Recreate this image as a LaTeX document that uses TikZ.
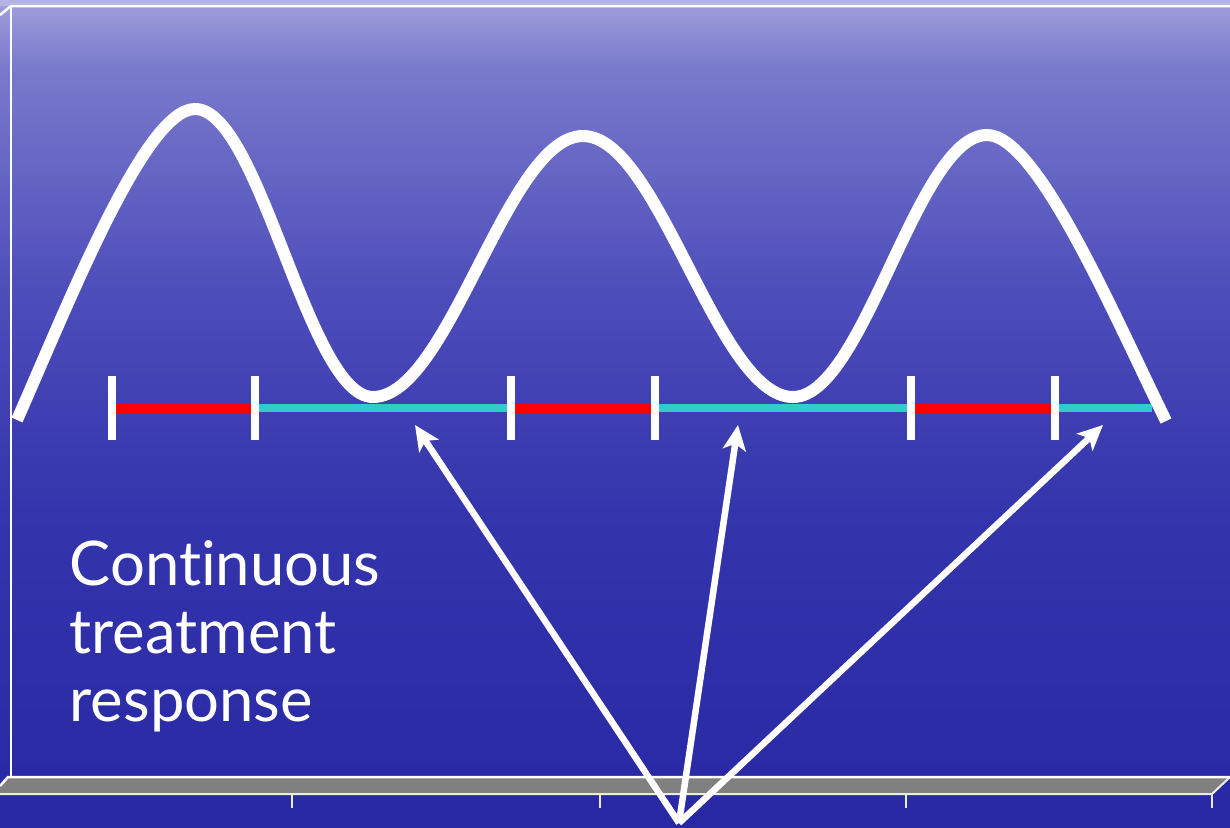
\documentclass[tikz,border=0pt]{standalone}
\usepackage{fontspec}
\setmainfont{Lato}[Ligatures=NoCommon]
\usetikzlibrary{arrows.meta}

\definecolor{seatop}{RGB}{160,160,222}
\definecolor{seaupper}{RGB}{122,122,204}
\definecolor{seamid}{RGB}{76,76,186}
\definecolor{sealow}{RGB}{52,52,172}
\definecolor{seabot}{RGB}{40,40,165}
\definecolor{onred}{RGB}{255,0,0}
\definecolor{offcyan}{RGB}{51,204,204}
\definecolor{floorgray}{RGB}{128,128,128}

\pgfdeclareverticalshading{seashade}{100bp}{color(0bp)=(seabot); color(25bp)=(seabot);
  color(44bp)=(sealow); color(57bp)=(seamid); color(71bp)=(seaupper); color(75bp)=(seatop);
  color(100bp)=(seatop)}

\begin{document}
\begin{tikzpicture}[x=0.01cm,y=-0.01cm,
  wave/.style={white,line width=1.2mm},
  onbar/.style={onred,line width=1mm},
  offbar/.style={offcyan,line width=0.85mm},
  tickmark/.style={white,line width=0.8mm},
  pointer/.style={white,line width=0.65mm,-{Stealth[length=2.5mm,width=2.3mm,inset=0.6mm]}},
  frame/.style={white,line width=0.25mm}]

% Background
\useasboundingbox (0,0) rectangle (1230,827);
\shade[shading=seashade] (0,0) rectangle (1230,827);
\fill[seatop!80!white] (0,0) rectangle (1230,6);

% Chart walls
\draw[frame] (0,15) -- (11,6) -- (1230,6);
\draw[frame] (11,6) -- (11,777);

% Floor
\fill[floorgray] (8,778) -- (1230,778) -- (1212,794) -- (0,794) -- (0,786) -- cycle;
\draw[frame] (0,786) -- (8,777) -- (1230,777);
\draw[white!85!gray,line width=0.2mm] (0,794) -- (1212,794) -- (1230,777);
\foreach \x in {292,600,906,1212}
  \draw[white!85!gray,line width=0.2mm] (\x,794) -- (\x,808);

% Off and on periods
\foreach \a/\b in {259/508,658/908,1058/1152}
  \draw[offbar] (\a,408) -- (\b,408);
\foreach \a/\b in {115/251,515/652,915/1052}
  \draw[onbar] (\a,408) -- (\b,408);
\foreach \x in {112,255,511,655,911,1055}
  \draw[tickmark] (\x,376) -- (\x,440);

% Response curve
\draw[wave] (17,420) .. controls (70,300) and (145,109) .. (195,109)
  .. controls (260,109) and (308,397) .. (373,397)
  .. controls (449,397) and (507,136) .. (583,136)
  .. controls (659,136) and (717,397) .. (793,397)
  .. controls (864,397) and (917,135) .. (987,135)
  .. controls (1037,135) and (1112,311) .. (1166,421);

% Label
\node[text=white,align=left,inner sep=0pt,anchor=north west,
  font=\fontsize{17.5}{19.3}\selectfont] (resp) at (69,540)
  {Continuous\\treatment\\response};

% Arrows to the off periods
\coordinate (src) at (679,823);
\coordinate (offA) at (415,425);
\coordinate (offB) at (738,425);
\coordinate (offC) at (1103,425);
\draw[pointer] (src) -- (offA);
\draw[pointer] (src) -- (offB);
\draw[pointer] (src) -- (offC);

\end{tikzpicture}
\end{document}
